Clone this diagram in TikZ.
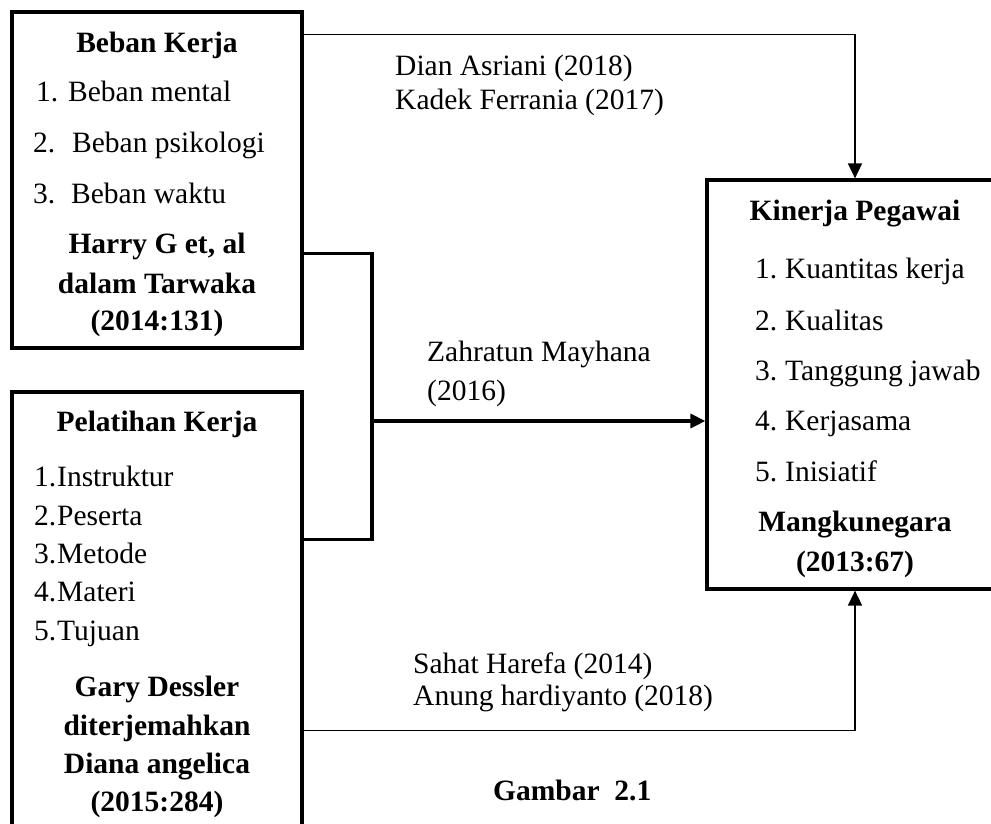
\documentclass[tikz,border=0pt]{standalone}
\usepackage{fontspec}
\setmainfont{Liberation Serif}
\usetikzlibrary{arrows.meta,calc}
\begin{document}
\begin{tikzpicture}[x=1pt,y=-1pt,
  box/.style={draw,line width=3.2pt,inner sep=0pt},
  txt/.style={inner sep=0pt,font=\fontsize{29.5}{35}\selectfont},
  lbl/.style={txt,anchor=base west},
  hd/.style={inner sep=0pt,anchor=base,font=\fontsize{29.5}{35}\selectfont\bfseries},
  thinln/.style={line width=1.6pt},
  thickln/.style={line width=3.2pt},
  tip/.style={-{Triangle[length=15pt,width=14pt]}}]
\useasboundingbox (0,0) rectangle (991,823);
\clip (0,0) rectangle (991,823);
% boxes
\node[box,minimum width=290pt,minimum height=336pt] (beban) at (157,180) {};
\node[box,minimum width=290pt,minimum height=450pt] (pelatihan) at (157,617) {};
\node[box,minimum width=296pt,minimum height=409pt] (kinerja) at (855,384.5) {};
% Beban Kerja
\node[hd] (a0) at (157,52) {Beban Kerja};
\node[lbl] (a1) at (36,101.7) {\makebox[32pt][l]{1.}Beban mental};
\node[lbl] (a2) at (33,152) {\makebox[39pt][l]{2.}Beban psikologi};
\node[lbl] (a3) at (33,203) {\makebox[38pt][l]{3.}Beban waktu};
\node[hd] (a4) at (157,253) {Harry G et, al};
\node[hd] (a5) at (157,293) {dalam Tarwaka};
\node[hd] (a6) at (157,330) {(2014:131)};
% Pelatihan Kerja
\node[hd] (b0) at (157,431.7) {Pelatihan Kerja};
\node[lbl] (b1) at (34,486.7) {\makebox[23pt][l]{1.}Instruktur};
\node[lbl] (b2) at (34,525) {\makebox[23pt][l]{2.}Peserta};
\node[lbl] (b3) at (34,563) {\makebox[23pt][l]{3.}Metode};
\node[lbl] (b4) at (34,601.7) {\makebox[23pt][l]{4.}Materi};
\node[lbl] (b5) at (34,640) {\makebox[23pt][l]{5.}Tujuan};
\node[hd] (b6) at (157,696.7) {Gary Dessler};
\node[hd] (b7) at (157,735) {diterjemahkan};
\node[hd] (b8) at (157,773) {Diana angelica};
\node[hd] (b9) at (157,811.7) {(2015:284)};
% Kinerja Pegawai
\node[hd] (c0) at (855,220) {Kinerja Pegawai};
\node[lbl] (c1) at (755,278.3) {\makebox[30pt][l]{1.}Kuantitas kerja};
\node[lbl] (c2) at (755,330) {\makebox[30pt][l]{2.}Kualitas};
\node[lbl] (c3) at (755,380) {\makebox[30pt][l]{3.}Tanggung jawab};
\node[lbl] (c4) at (755,430) {\makebox[30pt][l]{4.}Kerjasama};
\node[lbl] (c5) at (755,481.7) {\makebox[30pt][l]{5.}Inisiatif};
\node[hd] (c6) at (855,531.7) {Mangkunegara};
\node[hd] (c7) at (855,571.7) {(2013:67)};
% connector labels
\node[lbl] (l1) at (395,75.5) {Dian Asriani (2018)};
\node[lbl] (l2) at (395,109) {Kadek Ferrania (2017)};
\node[lbl] (l3) at (427,361.7) {Zahratun Mayhana};
\node[lbl] (l4) at (427,400) {(2016)};
\node[lbl] (l5) at (413,673) {Sahat Harefa (2014)};
\node[lbl] (l6) at (413,705) {Anung hardiyanto (2018)};
\node[hd,anchor=base west] (cap) at (493,800) {Gambar\ \ 2.1};
% connectors
\coordinate (J) at (372,421);
\draw[thinln,tip] ($(beban.north east)+(0,24)$) -| (kinerja.north);
\draw[thickln] ($(beban.south east)+(0,-96)$) -| (J) |- ($(pelatihan.north east)+(0,149)$);
\draw[thickln,tip] (J) -- (J -| kinerja.west);
\draw[thinln,tip] ($(pelatihan.north east)+(0,340)$) -| (kinerja.south);
\end{tikzpicture}
\end{document}
